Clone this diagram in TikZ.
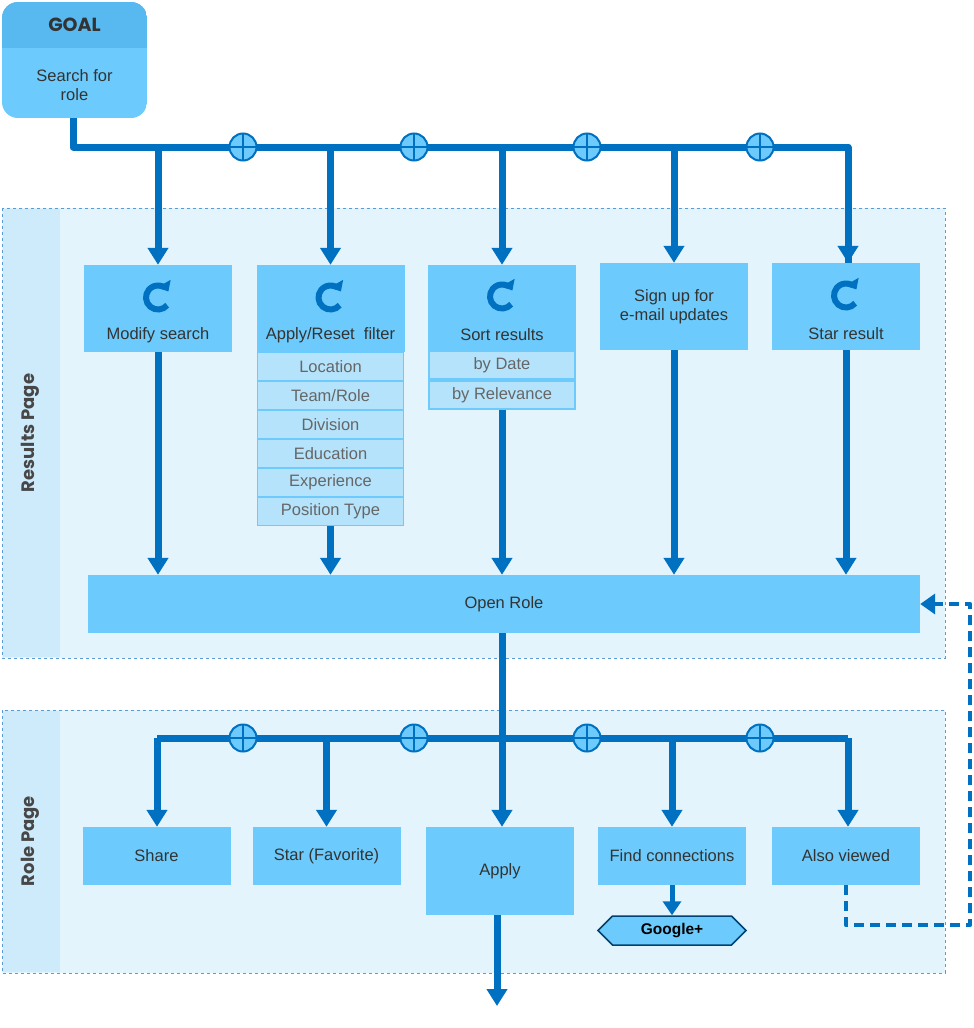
\documentclass[tikz,border=0pt]{standalone}
\usepackage{fontspec}
\setmainfont{Liberation Sans}
\newfontfamily\headfont{Poppins}
\usetikzlibrary{positioning, arrows.meta, shapes.symbols, calc}
\definecolor{flowblue}{HTML}{0070C0}
\definecolor{boxblue}{HTML}{6CCBFC}
\definecolor{goalhead}{HTML}{58B8F0}
\definecolor{panelfill}{HTML}{E3F4FC}
\definecolor{stripefill}{HTML}{CDEBFB}
\definecolor{subfill}{HTML}{B5E3FB}
\definecolor{panelline}{HTML}{5B9BD5}
\definecolor{darktext}{HTML}{333333}
\definecolor{graytext}{HTML}{666666}
\newcommand{\refreshicon}[1]{%
  \draw[flowblue, line width=6pt, -{Triangle[width=15pt,length=9pt]}]
    ($(#1)+(40:12)$) arc (40:330:12);}
\begin{document}
\begin{tikzpicture}[
    x=1pt, y=-1pt,
    font=\fontsize{16.5}{19}\selectfont\color{darktext},
    flow/.style={draw=flowblue, line width=7pt},
    flowarrow/.style={flow, -{Triangle[width=20pt,length=17pt]}},
    flowstep/.style={fill=boxblue, minimum width=148pt, inner sep=2pt, align=center},
    subitem/.style={fill=subfill, draw=boxblue, line width=1.5pt, minimum width=146pt,
        minimum height=28pt, inner sep=0pt, text=graytext},
    panel/.style={fill=panelfill, draw=panelline, dashed, line width=1pt},
    stripe/.style={fill=stripefill},
    junction/.style={circle, fill=boxblue, draw=flowblue, line width=2pt,
        minimum size=27pt, inner sep=0pt,
        path picture={\draw[flowblue, line width=2pt]
            (path picture bounding box.north) -- (path picture bounding box.south)
            (path picture bounding box.west) -- (path picture bounding box.east);}},
    panellabel/.style={rotate=90, font=\headfont\bfseries\fontsize{18}{20}\selectfont, text=darktext!90},
]
\useasboundingbox (0,0) rectangle (974,1028);

% panels
\draw[panel] (2,208) rectangle (945,658);
\fill[stripe] (3,209) rectangle (60,657);
\node[panellabel] (rp-label) at (30,433) {Results Page};
\draw[panel] (2,710) rectangle (945,973);
\fill[stripe] (3,711) rectangle (60,972);
\node[panellabel] (ro-label) at (30,841) {Role Page};

% goal
\begin{scope}
  \clip[rounded corners=16pt] (2,2) rectangle (147,118);
  \fill[boxblue] (2,2) rectangle (147,118);
  \fill[goalhead] (2,2) rectangle (147,48);
\end{scope}
\node[font=\headfont\bfseries\fontsize{19}{22}\selectfont, text=darktext] (goal-title) at (74.5,25) {GOAL};
\node[align=center] (goal-text) at (74.5,85) {Search for\\role};
\coordinate (goal) at (73,118);

% results page steps
\node[flowstep, minimum height=87pt] (ms) at (158,308.5) {};
\node[flowstep, minimum height=87pt] (af) at (330.5,308.5) {};
\node[flowstep, minimum height=85pt] (so) at (502,307.5) {};
\node[flowstep, minimum height=87pt] (su) at (674,306.5) {Sign up for\\e-mail updates};
\node[flowstep, minimum height=87pt] (st) at (846,306.5) {};
\foreach \n/\t in {ms/{Modify search}, af/{Apply/Reset\ \ filter}, so/{Sort results}, st/{Star result}}{
  \node (\n-label) at ($(\n)+(0,27)$) {\t};
  \refreshicon{$(\n)+(0,-11)$}
}

% filter and sort options
\foreach \t [count=\i] in {Location, Team/Role, Division, Education, Experience, Position Type}
  \node[subitem] (f-\i) at (330.5,352+29*\i-14.5) {\t};
\foreach \t [count=\i] in {by Date, by Relevance}
  \node[subitem] (s-\i) at (502,350+30*\i-15) {\t};

\node[fill=boxblue, minimum width=832pt, minimum height=58pt] (or) at (504,604) {Open Role};

% role page steps
\node[flowstep, minimum height=58pt] (sh) at (156.5,856) {Share};
\node[flowstep, minimum height=58pt] (fa) at (326.5,856) {Star (Favorite)};
\node[flowstep, minimum height=88pt] (ap) at (500,871) {Apply};
\node[flowstep, minimum height=58pt] (fc) at (672,856) {Find connections};
\node[flowstep, minimum height=58pt] (av) at (846,856) {Also viewed};
\node[signal, signal to=west and east, fill=boxblue, draw=flowblue!60!black, line width=1.5pt,
      minimum width=148pt, minimum height=29pt, inner sep=0pt,
      font=\bfseries\fontsize{15.5}{18}\selectfont] (gp) at (672,930.5) {Google+};

% top bus
\coordinate (bus1) at (848,147);
\draw[flow, line join=round] (goal) |- (bus1) -- (bus1 |- st.north);
\draw[flowarrow] (bus1) -- (bus1 |- st.north);
\foreach \n in {ms, af, so, su}
  \draw[flowarrow] (\n.north |- bus1) -- (\n.north);
\foreach \x in {243,414,587,760}
  \node[junction] (j1-\x) at (\x,147) {};

% down to open role
\draw[flowarrow] (ms.south) -- (ms.south |- or.north);
\draw[flowarrow] (f-6.south) -- (f-6.south |- or.north);
\draw[flowarrow] (s-2.south) -- (s-2.south |- or.north);
\draw[flowarrow] (su.south) -- (su.south |- or.north);
\draw[flowarrow] (st.south) -- (st.south |- or.north);

% role page bus
\coordinate (bus2) at (502,738);
\draw[flowarrow] (or.south -| bus2) -- (bus2 |- ap.north);
\coordinate (bus2l) at (157,738);
\coordinate (bus2r) at (848,738);
\draw[flow] (bus2l) -- (bus2r);
\draw[flowarrow] (bus2l) -- (bus2l |- sh.north);
\draw[flowarrow] (bus2r) -- (bus2r |- av.north);
\draw[flowarrow] (fa.north |- bus2) -- (fa.north);
\draw[flowarrow] (fc.north |- bus2) -- (fc.north);
\foreach \x in {243,414,587,760}
  \node[junction] (j2-\x) at (\x,738) {};

\coordinate (exit) at (497,1006);
\draw[flowarrow] (ap.south -| exit) -- (exit);
\draw[flowarrow, line width=5pt, -{Triangle[width=18pt,length=14pt]}] (fc.south) -- (gp.north);

% back to open role
\coordinate (loop1) at (846,925);
\coordinate (loop2) at (970,925);
\draw[flow, line width=4.5pt, dash pattern=on 10pt off 6pt, line join=round,
      -{Triangle[width=20pt,length=15pt]}]
  (av.south) -- (loop1) -- (loop2) |- (or.east);
\end{tikzpicture}
\end{document}
